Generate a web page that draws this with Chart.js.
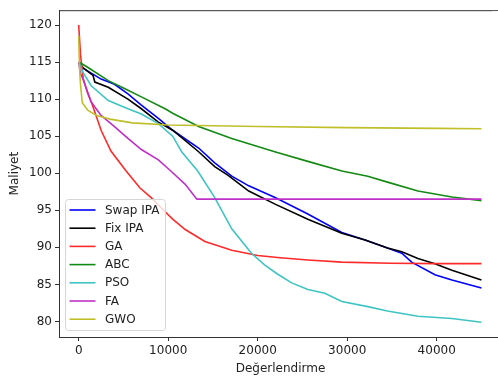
<!DOCTYPE html>
<html>
<head>
<meta charset="utf-8">
<script src="https://cdn.jsdelivr.net/npm/chart.js@4.4.0/dist/chart.umd.min.js"></script>
<style>
  html { margin: 0; padding: 0; overflow: hidden; width: 498px; height: 379px; background: #fff; }
  body { margin: 0; padding: 0; width: 502px; height: 379px; background: #fff; }
  canvas { display: block; }
</style>
</head>
<body>
<canvas id="convChart" width="502" height="379"></canvas>
<script>
// convergence curves: [evaluation, cost]
const swapIPA = [[0,115],[300,114.3],[1400,113.5],[2500,112.7],[4000,112.0],[5500,110.7],[7000,109.2],[8900,107.4],[10500,105.8],[13400,103.4],[15200,101.4],[17100,99.6],[19000,98.3],[22000,96.7],[25600,94.5],[29400,92.0],[32000,91.0],[34500,89.9],[36100,89.2],[37200,88.0],[39800,86.3],[41700,85.6],[45000,84.5]];
const fixIPA = [[0,115],[500,114.2],[1600,113.2],[1800,112.3],[3300,111.6],[5500,110.0],[7000,108.7],[8900,106.9],[10500,105.8],[13400,102.9],[15200,100.9],[16700,99.7],[19000,97.6],[22000,95.8],[25600,93.8],[29400,91.9],[32000,91.0],[34500,89.9],[36100,89.4],[37900,88.5],[39800,87.8],[41700,86.9],[45000,85.6]];
const ga = [[0,120],[200,116],[500,112.8],[1000,110.8],[1500,109.3],[2500,105.8],[3600,103],[5300,100.3],[6850,98],[8100,96.7],[9650,94.8],[10500,93.8],[11900,92.4],[14100,90.8],[17100,89.6],[20000,88.9],[22500,88.6],[25600,88.3],[29400,88.0],[34800,87.85],[40000,87.8],[45000,87.8]];
const abc = [[0,115],[300,114.8],[1000,114.3],[3300,112.5],[5000,111.5],[7000,110.3],[9650,108.7],[10500,108.1],[13400,106.3],[17100,104.7],[21900,102.9],[25600,101.6],[29400,100.3],[32300,99.6],[34500,98.8],[37900,97.6],[41700,96.8],[45000,96.3]];
const pso = [[0,115],[200,114.5],[480,113.6],[1400,111.8],[3300,109.8],[5500,108.7],[7000,108.0],[8900,106.7],[10500,105],[11500,102.9],[13300,100.3],[15200,96.7],[17100,92.5],[19300,89.2],[20800,87.6],[22200,86.4],[23800,85.2],[25600,84.3],[27500,83.8],[29400,82.7],[32300,82.0],[34500,81.4],[37900,80.7],[41700,80.4],[45000,79.9]];
const fa = [[0,115],[200,113.5],[480,112.7],[1400,109.6],[2500,107.8],[4000,106.3],[5500,104.7],[7000,103.2],[8900,101.8],[10200,100.4],[11900,98.5],[13200,96.5],[45000,96.5]];
const gwo = [[0,118.5],[100,114],[200,112],[400,109.5],[1000,108.5],[2000,107.8],[3500,107.3],[6000,106.8],[10000,106.5],[15000,106.4],[20000,106.3],[30000,106.15],[40000,106.05],[45000,106.0]];

const seriesNames = ['Swap IPA', 'Fix IPA', 'GA', 'ABC', 'PSO', 'FA', 'GWO'];
const seriesData = [swapIPA, fixIPA, ga, abc, pso, fa, gwo];
const seriesColors = ['#0000ff', '#000000', '#ff2a2a', '#138a13', '#3fc4c4', '#bf30c8', '#bfbf2a'];

const xTicks = [0, 10000, 20000, 30000, 40000];
const yTicks = [80, 85, 90, 95, 100, 105, 110, 115, 120];

const FONT = 'DejaVu Sans';
const TEXT = '#222';
const AXIS = '#333';

const datasets = seriesData.map((pts, i) => ({
  label: seriesNames[i],
  data: pts.map(p => ({ x: p[0], y: p[1] })),
  borderColor: seriesColors[i],
  backgroundColor: seriesColors[i],
  borderWidth: 1.6,
  pointRadius: 0,
  tension: 0,
  fill: false,
  order: seriesData.length - i   // last series ends up on top, like matplotlib
}));

// top spine + matplotlib style legend box inside the plot
const frameAndLegend = {
  id: 'frameAndLegend',
  afterDatasetsDraw(chart) {
    const { ctx, chartArea } = chart;
    ctx.save();
    ctx.strokeStyle = AXIS;
    ctx.lineWidth = 1;
    ctx.beginPath();
    ctx.moveTo(chartArea.left, chartArea.top + 0.5);
    ctx.lineTo(chart.width, chartArea.top + 0.5);
    ctx.stroke();

    const bx = 65.5, by = 199.5, bw = 100, bh = 131;
    ctx.beginPath();
    ctx.roundRect(bx, by, bw, bh, 3);
    ctx.fillStyle = 'rgba(255,255,255,0.8)';
    ctx.fill();
    ctx.strokeStyle = '#d6d6d6';
    ctx.stroke();

    ctx.font = '12px "' + FONT + '"';
    ctx.textBaseline = 'middle';
    chart.data.datasets.forEach((ds, i) => {
      const y = 210 + i * 18.2;
      ctx.strokeStyle = ds.borderColor;
      ctx.lineWidth = 1.6;
      ctx.beginPath();
      ctx.moveTo(69.5, y);
      ctx.lineTo(95.5, y);
      ctx.stroke();
      ctx.fillStyle = TEXT;
      ctx.fillText(ds.label, 105, y + 0.5);
    });
    ctx.restore();
  },
  afterDraw(chart) {
    // the reference is cut just before its right spine
    const { ctx, chartArea } = chart;
    ctx.save();
    ctx.fillStyle = '#fff';
    ctx.fillRect(492, chartArea.top + 1, 20, chartArea.bottom - chartArea.top - 1.5);
    ctx.restore();
  }
};

new Chart(document.getElementById('convChart'), {
  type: 'line',
  data: { datasets },
  options: {
    responsive: false,
    animation: false,
    devicePixelRatio: 1,
    layout: { padding: { top: 7, right: 0, bottom: 0, left: 0 } },
    plugins: {
      legend: { display: false },
      tooltip: { enabled: false }
    },
    scales: {
      x: {
        type: 'linear',
        min: -2201,
        max: 47296,
        afterBuildTicks: s => { s.ticks = xTicks.map(v => ({ value: v })); },
        afterFit: s => { s.height = 42; },
        ticks: {
          color: TEXT,
          font: { family: FONT, size: 12 },
          padding: 3,
          maxRotation: 0,
          callback: v => String(v)
        },
        grid: { display: true, drawOnChartArea: false, drawTicks: true, tickLength: 4, color: AXIS },
        border: { display: true, color: AXIS, width: 1 },
        title: {
          display: true,
          text: 'Değerlendirme',
          color: TEXT,
          font: { family: FONT, size: 12 },
          padding: { top: 0, bottom: 3 }
        }
      },
      y: {
        min: 77.9,
        max: 122,
        afterBuildTicks: s => { s.ticks = yTicks.map(v => ({ value: v })); },
        afterFit: s => { s.width = 59; },
        ticks: {
          color: TEXT,
          font: { family: FONT, size: 12 },
          padding: 3,
          callback: v => String(v)
        },
        grid: { display: true, drawOnChartArea: false, drawTicks: true, tickLength: 4, color: AXIS },
        border: { display: true, color: AXIS, width: 1 },
        title: {
          display: true,
          text: 'Maliyet',
          color: TEXT,
          font: { family: FONT, size: 12 },
          padding: { top: 8, bottom: 0 }
        }
      }
    }
  },
  plugins: [frameAndLegend]
});
</script>
</body>
</html>
